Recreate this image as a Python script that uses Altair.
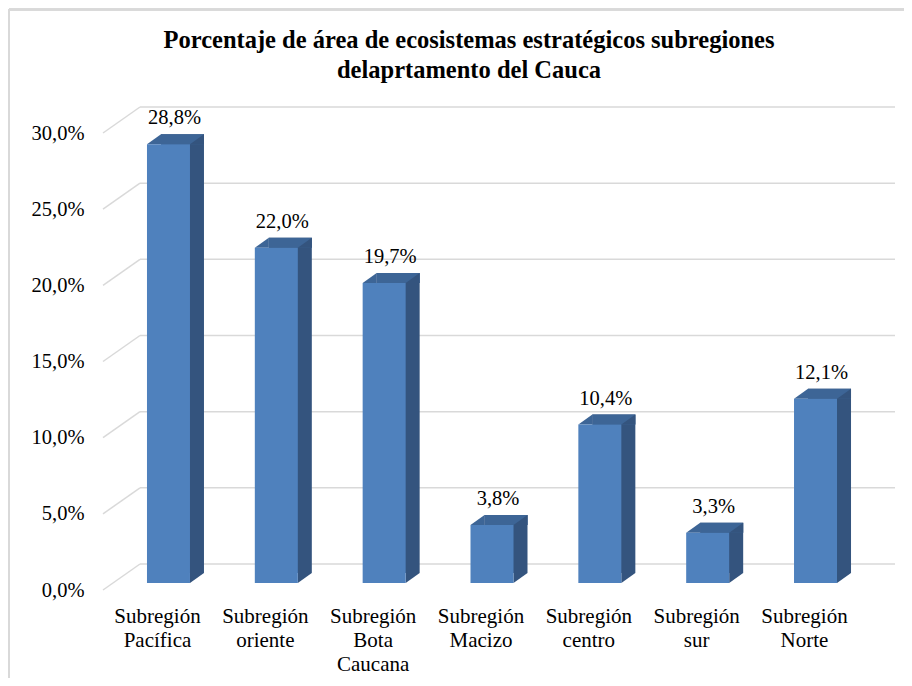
import altair as alt
import pandas as pd

regions = ["Subregión Pacífica", "Subregión oriente", "Subregión Bota Caucana",
           "Subregión Macizo", "Subregión centro", "Subregión sur", "Subregión Norte"]
values = [28.8, 22.0, 19.7, 3.8, 10.4, 3.3, 12.1]
tick_values = [0, 5, 10, 15, 20, 25, 30]
title_lines = ["Porcentaje de área de ecosistemas estratégicos subregiones",
               "delaprtamento del Cauca"]

df = pd.DataFrame({"region": regions, "value": values})
ticks = pd.DataFrame({"v": tick_values})

FONT = "Liberation Serif"
FRONT = "#4F81BD"
TOP = "#3D6596"
SIDE = "#34547E"
GRID = "#D9D9D9"
BAR_W = 43
DX, DY = 14, -10

xscale = alt.Scale(paddingInner=0, paddingOuter=0.135)
yscale = alt.Scale(domain=[0, 30], nice=False, zero=True)

xax = alt.Axis(labelExpr="split(datum.label, ' ')", labelAngle=0,
               labelFont=FONT, labelFontSize=21, labelColor="black",
               labelLineHeight=24, labelPadding=22, labelOffset=-11,
               domain=False, ticks=False, tickSize=0, grid=False,
               labelBaseline="top", title=None)
yax = alt.Axis(values=tick_values, grid=False, domain=False, ticks=False,
               tickSize=0, labelFont=FONT, labelFontSize=20.5,
               labelColor="black", labelPadding=16, labelOffset=7, title=None,
               labelExpr="replace(format(datum.value, '.1f'), '.', ',') + '%'")

X = alt.X("region:N", sort=regions, scale=xscale, axis=xax, title=None)
Y = alt.Y("value:Q", scale=yscale, axis=yax, title=None)
YT = alt.Y("v:Q", scale=yscale, axis=yax, title=None)

# back-wall gridlines and their slanted connectors
grid = alt.Chart(ticks).mark_rule(color=GRID, strokeWidth=1.5, yOffset=-19).encode(
    y=YT, x=alt.value(40), x2=alt.value(795))
diag = alt.Chart(ticks).mark_rule(color=GRID, strokeWidth=1.5, yOffset=7, y2Offset=-19).encode(
    y=YT, y2=alt.Y2("v:Q"), x=alt.value(3), x2=alt.value(40))

base = alt.Chart(df)

side = base.mark_bar(width=BAR_W, xOffset=DX, yOffset=DY, y2Offset=DY, color=SIDE).encode(
    x=X, y=Y, y2=alt.datum(0))
top = base.mark_bar(width=BAR_W, xOffset=DX, yOffset=DY, y2Offset=0, color=TOP).encode(
    x=X, y=Y, y2=alt.Y2("value:Q"))

lr_tri = "M -1 0.714 L 1 -0.714 L 1 0.714 Z"
ul_tri = "M -1 -0.714 L 1 -0.714 L -1 0.714 Z"
tri_size = (2 * 7) ** 2

top_right = base.mark_point(shape=lr_tri, size=tri_size, filled=True, opacity=1,
                            strokeWidth=0, color=SIDE, xOffset=BAR_W / 2 + 7, yOffset=-5).encode(
    x=X, y=Y)
top_left = base.mark_point(shape=lr_tri, size=tri_size, filled=True, opacity=1,
                           strokeWidth=0, color=TOP, xOffset=-BAR_W / 2 + 7, yOffset=-5).encode(
    x=X, y=Y)
bottom_right = base.transform_calculate(zero="0").mark_point(
    shape=ul_tri, size=tri_size, filled=True, opacity=1,
    strokeWidth=0, color=SIDE, xOffset=BAR_W / 2 + 7, yOffset=-5).encode(
    x=X, y=alt.Y("zero:Q", scale=yscale, axis=yax, title=None))

front = base.mark_bar(width=BAR_W, color=FRONT).encode(x=X, y=Y)

labels = base.transform_calculate(
    label="replace(format(datum.value, '.1f'), '.', ',') + '%'"
).mark_text(font=FONT, fontSize=20.5, color="black", baseline="alphabetic",
            dy=-20, dx=6).encode(x=X, y=Y, text="label:N")

title = alt.Chart(pd.DataFrame({"t": ["\n".join(title_lines)]})).mark_text(
    font=FONT, fontSize=24.5, fontWeight="bold", color="black", lineBreak="\n",
    lineHeight=30, align="center", baseline="alphabetic").encode(
    x=alt.value(369), y=alt.value(-78), text="t:N")

border_top = alt.Chart(ticks).mark_rule(color=GRID, strokeWidth=2).encode(
    x=alt.value(-91), x2=alt.value(820), y=alt.value(-116.5))
border_left = alt.Chart(ticks).mark_rule(color=GRID, strokeWidth=2).encode(
    x=alt.value(-91), y=alt.value(-116.5), y2=alt.value(560))

chart = alt.layer(
    border_top, border_left, grid, diag, side, top, top_right, top_left, bottom_right,
    front, labels, title
).properties(
    width=784, height=457,
    autosize=alt.AutoSizeParams(type="none"),
    padding={"left": 92, "top": 118, "right": 20, "bottom": 95},
).configure(
    background="white", font=FONT
).configure_view(strokeWidth=0, stroke="transparent").configure_text(font=FONT)

chart.save("out.html", embed_options={"renderer": "svg", "actions": False})
